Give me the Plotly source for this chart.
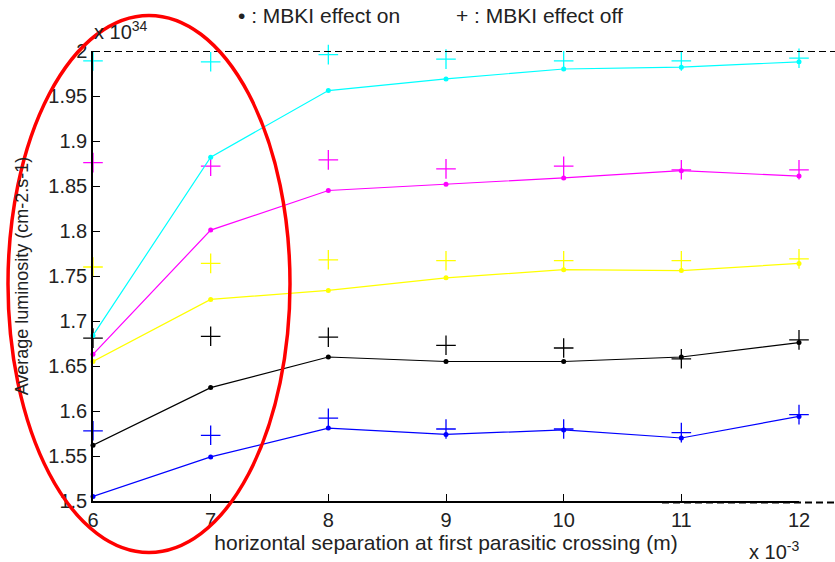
import plotly.graph_objects as go

# Horizontal separation at the first parasitic crossing (m)
x_sep = [0.006, 0.007, 0.008, 0.009, 0.010, 0.011, 0.012]
x_ticktext = ["6", "7", "8", "9", "10", "11", "12"]

# Average luminosity in units of 1e34 cm^-2 s^-1, MBKI effect on
cyan_on = [1.684, 1.882, 1.956, 1.969, 1.980, 1.982, 1.988]
magenta_on = [1.663, 1.801, 1.845, 1.852, 1.859, 1.867, 1.861]
yellow_on = [1.655, 1.724, 1.734, 1.748, 1.757, 1.756, 1.764]
black_on = [1.562, 1.626, 1.660, 1.655, 1.655, 1.660, 1.676]
blue_on = [1.505, 1.549, 1.581, 1.574, 1.579, 1.570, 1.594]

# Same configurations, MBKI effect off
cyan_off = [1.989, 1.988, 1.996, 1.991, 1.989, 1.989, 1.992]
magenta_off = [1.876, 1.872, 1.879, 1.869, 1.872, 1.868, 1.868]
yellow_off = [1.760, 1.764, 1.768, 1.767, 1.767, 1.767, 1.769]
black_off = [1.681, 1.683, 1.682, 1.673, 1.670, 1.658, 1.679]
blue_off = [1.578, 1.573, 1.592, 1.580, 1.580, 1.576, 1.596]

y_ticks = [1.5, 1.55, 1.6, 1.65, 1.7, 1.75, 1.8, 1.85, 1.9, 1.95, 2.0]
y_ticktext = ["1.5", "1.55", "1.6", "1.65", "1.7", "1.75", "1.8", "1.85", "1.9", "1.95", "2"]

series = [
    ("#0000FF", blue_on, blue_off),
    ("#000000", black_on, black_off),
    ("#FFFF00", yellow_on, yellow_off),
    ("#FF00FF", magenta_on, magenta_off),
    ("#00FFFF", cyan_on, cyan_off),
]

W, H = 835, 562
L, R, T, B = 93, 799, 51, 506  # plot area in pixels


def px(xp):
    return (xp - L) / (R - L)


def py(yp):
    return (B - yp) / (B - T)


FONT = "Liberation Sans, Arial, sans-serif"
TXT = "#222222"

fig = go.Figure()
for color, on, off in series:
    fig.add_trace(go.Scatter(
        x=x_sep, y=on, mode="lines+markers",
        line=dict(color=color, width=1.2),
        marker=dict(symbol="circle", size=5, color=color),
        showlegend=False, cliponaxis=False,
    ))
    fig.add_trace(go.Scatter(
        x=x_sep, y=off, mode="markers",
        marker=dict(symbol="cross-thin", size=14, line=dict(color=color, width=1.3)),
        showlegend=False, cliponaxis=False,
    ))

fig.update_layout(
    width=W, height=H, autosize=False,
    margin=dict(l=L, r=W - R, t=T, b=H - B, pad=0),
    paper_bgcolor="white", plot_bgcolor="white",
    font=dict(family=FONT, size=20, color=TXT),
    xaxis=dict(
        range=[0.006, 0.012], tickvals=x_sep, ticktext=x_ticktext,
        ticks="inside", ticklen=7, tickwidth=1.3, tickcolor="black",
        showline=True, linecolor="black", linewidth=1.5,
        showgrid=False, zeroline=False, mirror=False,
        tickfont=dict(size=20, color=TXT),
        title=dict(text="horizontal separation at first parasitic crossing (m)",
                   font=dict(size=21, color=TXT), standoff=5),
    ),
    yaxis=dict(
        range=[1.5, 2.0], tickvals=y_ticks, ticktext=y_ticktext,
        ticks="inside", ticklen=7, tickwidth=1.3, tickcolor="black",
        showline=True, linecolor="black", linewidth=1.5,
        showgrid=False, zeroline=False, mirror=False,
        tickfont=dict(size=20, color=TXT),
        title=dict(text="Average luminosity (cm-2.s-1)",
                   font=dict(size=18, color=TXT), standoff=15),
    ),
)

# Reference level and lower guide line
fig.add_shape(type="line", xref="paper", yref="y", x0=0, x1=px(835), y0=2.0, y1=2.0,
              line=dict(color="black", width=2, dash="7px,4px"))
fig.add_shape(type="line", xref="paper", yref="paper", x0=px(662), x1=px(835),
              y0=py(507.5), y1=py(507.5),
              line=dict(color="black", width=2, dash="7px,4px"))

# Exponent labels
fig.add_annotation(xref="paper", yref="paper", x=px(92), y=py(45), xanchor="left", yanchor="bottom",
                   text="x 10<sup>34</sup>", showarrow=False, font=dict(size=20, color=TXT))
fig.add_annotation(xref="paper", yref="paper", x=px(801), y=py(571), xanchor="right", yanchor="bottom",
                   text="x 10<sup>-3</sup>", showarrow=False, font=dict(size=20, color=TXT))

# Marker key
fig.add_annotation(xref="paper", yref="paper", x=px(236), y=py(15), xanchor="left", yanchor="middle",
                   text="• : MBKI effect on", showarrow=False, font=dict(size=21, color=TXT))
fig.add_annotation(xref="paper", yref="paper", x=px(454), y=py(15), xanchor="left", yanchor="middle",
                   text="+ : MBKI effect off", showarrow=False, font=dict(size=21, color=TXT))

# Highlight around the small-separation region
fig.add_shape(type="circle", xref="paper", yref="paper",
              x0=px(8), x1=px(290), y0=py(558), y1=py(15),
              line=dict(color="#FF0000", width=3.5), layer="above")

fig.write_html("out.html")
